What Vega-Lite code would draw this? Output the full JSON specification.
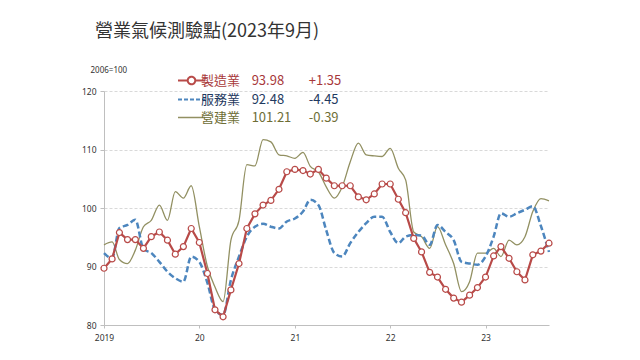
{
  "$schema": "https://vega.github.io/schema/vega-lite/v6.json",
  "width": 445,
  "height": 234,
  "autosize": {"type": "none"},
  "padding": {"left": 104, "top": 91, "right": 91, "bottom": 35},
  "background": "white",
  "config": {"view": {"stroke": null}, "font": "Noto Sans CJK TC"},
  "title": {
    "text": "營業氣候測驗點(2023年9月)",
    "anchor": "start",
    "frame": "group",
    "dx": -9,
    "offset": 25,
    "fontSize": 18,
    "fontWeight": "normal",
    "color": "#333333",
    "font": "Noto Sans CJK TC"
  },
  "data": {
    "values": [
      {"date": "2019-01-01", "製造業": 89.7, "服務業": 92.3, "營建業": 93.7},
      {"date": "2019-02-01", "製造業": 91.3, "服務業": 91.4, "營建業": 94.2},
      {"date": "2019-03-01", "製造業": 95.8, "服務業": 96.6, "營建業": 91.2},
      {"date": "2019-04-01", "製造業": 94.6, "服務業": 97.1, "營建業": 90.5},
      {"date": "2019-05-01", "製造業": 94.6, "服務業": 98.0, "營建業": 92.8},
      {"date": "2019-06-01", "製造業": 93.1, "服務業": 93.0, "營建業": 96.8},
      {"date": "2019-07-01", "製造業": 95.1, "服務業": 92.3, "營建業": 97.9},
      {"date": "2019-08-01", "製造業": 95.9, "服務業": 90.8, "營建業": 100.5},
      {"date": "2019-09-01", "製造業": 94.5, "服務業": 89.1, "營建業": 97.9},
      {"date": "2019-10-01", "製造業": 92.1, "服務業": 88.0, "營建業": 102.8},
      {"date": "2019-11-01", "製造業": 93.4, "服務業": 87.4, "營建業": 101.7},
      {"date": "2019-12-01", "製造業": 96.5, "服務業": 91.7, "營建業": 103.8},
      {"date": "2020-01-01", "製造業": 94.1, "服務業": 90.8, "營建業": 96.8},
      {"date": "2020-02-01", "製造業": 88.8, "服務業": 87.2, "營建業": 90.0},
      {"date": "2020-03-01", "製造業": 82.6, "服務業": 82.6, "營建業": 86.5},
      {"date": "2020-04-01", "製造業": 81.4, "服務業": 81.7, "營建業": 84.0},
      {"date": "2020-05-01", "製造業": 86.0, "服務業": 87.7, "營建業": 94.5},
      {"date": "2020-06-01", "製造業": 90.5, "服務業": 91.7, "營建業": 97.9},
      {"date": "2020-07-01", "製造業": 96.5, "服務業": 95.1, "營建業": 107.4},
      {"date": "2020-08-01", "製造業": 99.0, "服務業": 96.8, "營建業": 107.2},
      {"date": "2020-09-01", "製造業": 100.5, "服務業": 97.3, "營建業": 111.7},
      {"date": "2020-10-01", "製造業": 101.3, "服務業": 96.8, "營建業": 111.3},
      {"date": "2020-11-01", "製造業": 103.2, "服務業": 96.5, "營建業": 109.1},
      {"date": "2020-12-01", "製造業": 106.2, "服務業": 97.7, "營建業": 108.9},
      {"date": "2021-01-01", "製造業": 106.6, "服務業": 98.2, "營建業": 108.5},
      {"date": "2021-02-01", "製造業": 106.4, "服務業": 99.4, "營建業": 109.5},
      {"date": "2021-03-01", "製造業": 105.8, "服務業": 101.4, "營建業": 107.1},
      {"date": "2021-04-01", "製造業": 106.6, "服務業": 100.5, "營建業": 106.2},
      {"date": "2021-05-01", "製造業": 105.1, "服務業": 96.2, "營建業": 103.6},
      {"date": "2021-06-01", "製造業": 103.8, "服務業": 92.3, "營建業": 101.7},
      {"date": "2021-07-01", "製造業": 103.8, "服務業": 91.7, "營建業": 103.6},
      {"date": "2021-08-01", "製造業": 103.8, "服務業": 94.0, "營建業": 107.9},
      {"date": "2021-09-01", "製造業": 101.9, "服務業": 95.9, "營建業": 111.1},
      {"date": "2021-10-01", "製造業": 101.4, "服務業": 97.4, "營建業": 109.1},
      {"date": "2021-11-01", "製造業": 102.4, "服務業": 98.5, "營建業": 108.9},
      {"date": "2021-12-01", "製造業": 104.1, "服務業": 98.5, "營建業": 108.8},
      {"date": "2022-01-01", "製造業": 104.1, "服務業": 95.9, "營建業": 110.2},
      {"date": "2022-02-01", "製造業": 101.5, "服務業": 94.0, "營建業": 106.8},
      {"date": "2022-03-01", "製造業": 99.2, "服務業": 95.1, "營建業": 104.8},
      {"date": "2022-04-01", "製造業": 94.8, "服務業": 95.4, "營建業": 95.9},
      {"date": "2022-05-01", "製造業": 92.5, "服務業": 95.3, "營建業": 95.1},
      {"date": "2022-06-01", "製造業": 89.0, "服務業": 93.7, "營建業": 93.1},
      {"date": "2022-07-01", "製造業": 88.2, "服務業": 97.1, "營建業": 96.8},
      {"date": "2022-08-01", "製造業": 86.1, "服務業": 95.9, "營建業": 93.7},
      {"date": "2022-09-01", "製造業": 84.6, "服務業": 94.5, "營建業": 90.5},
      {"date": "2022-10-01", "製造業": 83.9, "服務業": 90.8, "營建業": 85.7},
      {"date": "2022-11-01", "製造業": 85.1, "服務業": 90.5, "營建業": 87.4},
      {"date": "2022-12-01", "製造業": 86.4, "服務業": 90.3, "營建業": 92.3},
      {"date": "2023-01-01", "製造業": 88.2, "服務業": 91.7, "營建業": 92.3},
      {"date": "2023-02-01", "製造業": 91.8, "服務業": 95.1, "營建業": 93.1},
      {"date": "2023-03-01", "製造業": 93.4, "服務業": 99.1, "營建業": 91.7},
      {"date": "2023-04-01", "製造業": 91.4, "服務業": 98.5, "營建業": 94.5},
      {"date": "2023-05-01", "製造業": 89.1, "服務業": 99.1, "營建業": 93.7},
      {"date": "2023-06-01", "製造業": 87.7, "服務業": 99.7, "營建業": 95.1},
      {"date": "2023-07-01", "製造業": 92.0, "服務業": 100.3, "營建業": 99.4},
      {"date": "2023-08-01", "製造業": 92.63, "服務業": 96.93, "營建業": 101.6},
      {"date": "2023-09-01", "製造業": 93.98, "服務業": 92.48, "營建業": 101.21}
    ]
  },
  "transform": [{"fold": ["製造業", "服務業", "營建業"], "as": ["series", "value"]}],
  "encoding": {
    "x": {
      "field": "date",
      "type": "temporal",
      "scale": {
        "type": "utc",
        "domain": [
          {"year": 2019, "month": 1, "date": 1, "utc": true},
          {"year": 2023, "month": 9, "date": 1, "utc": true}
        ]
      },
      "axis": {
        "title": null,
        "values": [
          {"year": 2019, "month": 1, "date": 1, "utc": true},
          {"year": 2020, "month": 1, "date": 1, "utc": true},
          {"year": 2021, "month": 1, "date": 1, "utc": true},
          {"year": 2022, "month": 1, "date": 1, "utc": true},
          {"year": 2023, "month": 1, "date": 1, "utc": true}
        ],
        "labelExpr": "utcyear(datum.value) == 2019 ? '2019' : utcFormat(datum.value, '%y')",
        "grid": false,
        "domainColor": "#bfbfbf",
        "tickColor": "#bfbfbf",
        "tickSize": 3,
        "labelFontSize": 8.5,
        "labelColor": "#333333",
        "labelFont": "Noto Sans",
        "labelPadding": 5,
        "labelFlush": false
      }
    },
    "y": {
      "field": "value",
      "type": "quantitative",
      "scale": {"domain": [80, 120], "nice": false, "zero": false},
      "axis": {
        "title": "2006=100",
        "titleAngle": 0,
        "titleAlign": "left",
        "titleBaseline": "middle",
        "titleX": -14,
        "titleY": -21,
        "titleFontSize": 8,
        "titleFontWeight": "normal",
        "titleColor": "#333333",
        "titleFont": "Noto Sans",
        "values": [80, 90, 100, 110, 120],
        "grid": true,
        "gridDash": [3, 2],
        "gridColor": "#d9d9d9",
        "domainColor": "#bfbfbf",
        "tickColor": "#bfbfbf",
        "tickSize": 4,
        "labelFontSize": 8.5,
        "labelColor": "#333333",
        "labelFont": "Noto Sans",
        "labelPadding": 4
      }
    },
    "color": {
      "field": "series",
      "type": "nominal",
      "scale": {
        "domain": ["製造業", "服務業", "營建業"],
        "range": ["#b84a48", "#4d86be", "#929062"]
      },
      "legend": {
        "orient": "none",
        "legendX": 81,
        "legendY": -17,
        "title": null,
        "padding": 0,
        "symbolType": "stroke",
        "symbolSize": 729,
        "symbolStrokeWidth": 2,
        "labelFontSize": 13,
        "labelFont": "Noto Sans CJK TC",
        "labelOffset": 3,
        "labelLimit": 0,
        "rowPadding": 4,
        "labelExpr": "datum.label == '製造業' ? '製造業\u00a0\u00a0\u00a0\u00a093.98\u2007\u00a0\u00a0\u00a0\u00a0\u00a0\u00a0+1.35' : datum.label == '服務業' ? '服務業\u00a0\u00a0\u00a0\u00a092.48\u2007\u00a0\u00a0\u00a0\u00a0\u00a0\u00a0-4.45' : '營建業\u00a0\u00a0\u00a0\u00a0101.21\u00a0\u00a0\u00a0\u00a0\u00a0\u00a0-0.39'",
        "encode": {
          "symbols": {
            "update": {
              "shape": {"signal": "datum.value == '製造業' ? 'M-1,0H-0.28M0.28,0H1M0.28,0A0.28,0.28,0,1,1,-0.28,0A0.28,0.28,0,1,1,0.28,0' : 'stroke'"},
              "strokeDash": {"signal": "datum.value == '服務業' ? [4, 2] : [1, 0]"},
              "strokeWidth": {"signal": "datum.value == '營建業' ? 1.3 : 2"},
              "fill": {"value": "white"}
            }
          },
          "labels": {
            "update": {
              "fill": {"signal": "datum.value == '製造業' ? '#a8383a' : datum.value == '服務業' ? '#1f3a60' : '#6e6e36'"}
            }
          }
        }
      }
    }
  },
  "layer": [
    {
      "transform": [{"filter": "datum.series == '營建業'"}],
      "mark": {"type": "line", "interpolate": "monotone", "strokeWidth": 1.3}
    },
    {
      "transform": [{"filter": "datum.series == '服務業'"}],
      "mark": {"type": "line", "interpolate": "monotone", "strokeWidth": 2.5, "strokeDash": [6, 3]}
    },
    {
      "transform": [{"filter": "datum.series == '製造業'"}],
      "mark": {"type": "line", "strokeWidth": 2.2}
    },
    {
      "transform": [{"filter": "datum.series == '製造業'"}],
      "mark": {"type": "point", "filled": false, "fill": "white", "size": 36, "strokeWidth": 1.2, "opacity": 1}
    }
  ]
}
